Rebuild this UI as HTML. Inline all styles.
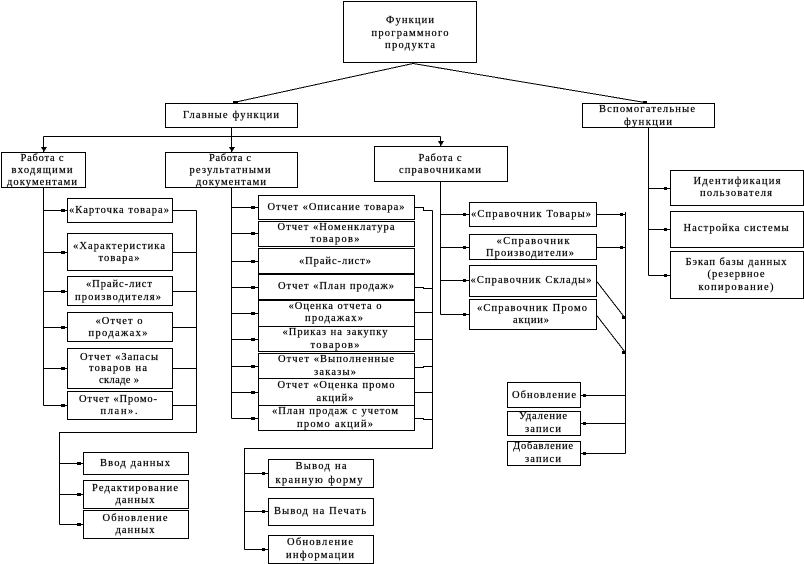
<!DOCTYPE html>
<html lang="ru"><head><meta charset="utf-8"><title>Функции программного продукта</title>
<style>
html,body{margin:0;padding:0;background:#fff;width:804px;height:564px;overflow:hidden}
svg{display:block}
rect.b{fill:#fff;stroke:#000;stroke-width:1;shape-rendering:crispEdges}
path.l{fill:none;stroke:#000;stroke-width:1;shape-rendering:crispEdges}
path.m{fill:#000;stroke:none;shape-rendering:crispEdges}
text{font-family:"Liberation Serif","Noto Serif CJK SC",serif;font-size:10.5px;fill:#000;stroke:#000;stroke-width:.2px;text-anchor:middle}
</style></head><body>
<svg width="804" height="564" viewBox="0 0 804 564" xmlns="http://www.w3.org/2000/svg">
<path class="l" d="M413 63.5L236 102M413 63.5L645 102.5
M43.5 136.5H440.5M231.5 127V152M43.5 136.5V152M440.5 136.5V146
M43.5 187V405.5M43.5 210.5H67M43.5 252.5H67M43.5 291.5H67M43.5 327.5H67M43.5 368.5H67M43.5 405.5H67
M172 210.5H196.5M172 252.5H196.5M172 291.5H196.5M172 327.5H196.5M172 368.5H196.5M172 405.5H196.5M196.5 210.5V432.5H59.5V524.5M59.5 463.5H83M59.5 494.5H83M59.5 524.5H83
M231.5 187V418.5M231.5 207.5H258M231.5 233.5H258M231.5 261.5H258M231.5 287.5H258M231.5 313.5H258M231.5 339.5H258M231.5 366.5H258M231.5 392.5H258M231.5 418.5H258
M414 207.5H423.5V210.5H432.5M414 287.5H423.5V288.5H432.5M414 312.5H432.5M414 339.5H432.5M414 367.5H423.5V366.5H432.5M414 392.5H432.5M414 418.5H423.5V419.5H432.5
M432.5 210.5V448.5H244.5V549.5M244.5 473.5H268M244.5 511.5H268M244.5 549.5H268
M440.5 181V314.5M440.5 214.5H469M440.5 247.5H469M440.5 280.5H469M440.5 314.5H469
M596 214.5H625.5M596 247.5H625.5M625.5 212V453.5M580 395.5H625.5M580 423.5H625.5M580 453.5H625.5
M596 280.5L625 318M596 314.5L625 352
M648.5 127V275.5M648.5 188.5H670M648.5 229.5H670M648.5 275.5H670"/>
<path class="m" d="M41 147h6l-3 5zM229 147h6l-3 5zM438 141h6l-3 5z
M233 101h5v3h-5zM643 101h4v3h-4z
M61 209h4v3h-4zM61 251h4v3h-4zM61 290h4v3h-4zM61 326h4v3h-4zM61 367h4v3h-4zM61 404h4v3h-4z
M77 462h4v3h-4zM77 493h4v3h-4zM77 523h4v3h-4z
M251 206h4v3h-4zM251 232h4v3h-4zM251 260h4v3h-4zM251 286h4v3h-4zM251 312h4v3h-4zM251 338h4v3h-4zM251 365h4v3h-4zM251 391h4v3h-4zM251 417h4v3h-4z
M262 472h3v3h-3zM262 510h3v3h-3zM262 548h3v3h-3z
M463 213h3v3h-3zM463 246h3v3h-3zM463 279h3v3h-3zM463 313h3v3h-3z
M620 213h3v3h-3zM620 246h3v3h-3zM622 316h4v3h-4zM622 351h4v3h-4z
M583 394h3v3h-3zM583 422h3v3h-3zM583 452h3v3h-3z
M664 187h3v3h-3zM664 228h3v3h-3zM664 274h3v3h-3z"/>
<rect class="b" x="343.5" y="1.5" width="133" height="61"/>
<rect class="b" x="165.5" y="103.5" width="132" height="24"/>
<rect class="b" x="582.5" y="103.5" width="132" height="24"/>
<rect class="b" x="1.5" y="152.5" width="84" height="35"/>
<rect class="b" x="165.5" y="152.5" width="132" height="35"/>
<rect class="b" x="374.5" y="146.5" width="133" height="35"/>
<rect class="b" x="67.5" y="198.5" width="105" height="24"/>
<rect class="b" x="67.5" y="233.5" width="105" height="37"/>
<rect class="b" x="67.5" y="276.5" width="105" height="29"/>
<rect class="b" x="67.5" y="312.5" width="105" height="29"/>
<rect class="b" x="67.5" y="348.5" width="105" height="40"/>
<rect class="b" x="67.5" y="391.5" width="105" height="28"/>
<rect class="b" x="83.5" y="452.5" width="105" height="22"/>
<rect class="b" x="83.5" y="480.5" width="105" height="28"/>
<rect class="b" x="83.5" y="510.5" width="105" height="28"/>
<rect class="b" x="258.5" y="195.5" width="156" height="24"/>
<rect class="b" x="258.5" y="221.5" width="156" height="25"/>
<rect class="b" x="258.5" y="248.5" width="156" height="25"/>
<rect class="b" x="258.5" y="274.5" width="156" height="25"/>
<rect class="b" x="258.5" y="300.5" width="156" height="26"/>
<rect class="b" x="258.5" y="326.5" width="156" height="25"/>
<rect class="b" x="258.5" y="353.5" width="156" height="25"/>
<rect class="b" x="258.5" y="378.5" width="156" height="27"/>
<rect class="b" x="258.5" y="405.5" width="156" height="25"/>
<rect class="b" x="268.5" y="459.5" width="105" height="28"/>
<rect class="b" x="268.5" y="498.5" width="105" height="27"/>
<rect class="b" x="268.5" y="535.5" width="105" height="28"/>
<rect class="b" x="469.5" y="202.5" width="127" height="24"/>
<rect class="b" x="469.5" y="234.5" width="127" height="25"/>
<rect class="b" x="469.5" y="265.5" width="127" height="31"/>
<rect class="b" x="469.5" y="299.5" width="127" height="30"/>
<rect class="b" x="507.5" y="382.5" width="73" height="25"/>
<rect class="b" x="507.5" y="411.5" width="73" height="24"/>
<rect class="b" x="507.5" y="441.5" width="73" height="24"/>
<rect class="b" x="670.5" y="170.5" width="133" height="35"/>
<rect class="b" x="670.5" y="211.5" width="133" height="36"/>
<rect class="b" x="670.5" y="251.5" width="133" height="47"/>
<text x="410" y="23" textLength="48">Функции</text>
<text x="410" y="36" textLength="77">программного</text>
<text x="410" y="48" textLength="50">продукта</text>
<text x="231" y="118" textLength="96">Главные функции</text>
<text x="647" y="112" textLength="96">Вспомогательные</text>
<text x="648" y="125" textLength="48">функции</text>
<text x="42" y="161" textLength="43">Работа с</text>
<text x="42" y="173" textLength="61">входящими</text>
<text x="42" y="185" textLength="70">документами</text>
<text x="230" y="161" textLength="42">Работа с</text>
<text x="230" y="173" textLength="81">результатными</text>
<text x="231" y="185" textLength="70">документами</text>
<text x="440" y="161" textLength="43">Работа с</text>
<text x="440" y="173" textLength="82">справочниками</text>
<text x="119" y="213" textLength="100">«Карточка товара»</text>
<text x="119" y="249" textLength="92">«Характеристика</text>
<text x="119" y="261" textLength="41">товара»</text>
<text x="119" y="287" textLength="66">«Прайс-лист</text>
<text x="118" y="300" textLength="86">производителя»</text>
<text x="119" y="324" textLength="47">«Отчет о</text>
<text x="118" y="336" textLength="59">продажах»</text>
<text x="119" y="360" textLength="78">Отчет «Запасы</text>
<text x="118" y="371" textLength="58">товаров на</text>
<text x="119" y="383" textLength="40">складе »</text>
<text x="118" y="402" textLength="78">Отчет «Промо-</text>
<text x="119" y="414" textLength="37">план».</text>
<text x="135" y="466" textLength="70">Ввод данных</text>
<text x="135" y="491" textLength="86">Редактирование</text>
<text x="135" y="503" textLength="39">данных</text>
<text x="135" y="521" textLength="65">Обновление</text>
<text x="135" y="533" textLength="39">данных</text>
<text x="336" y="210" textLength="137">Отчет «Описание товара»</text>
<text x="336" y="230" textLength="117">Отчет «Номенклатура</text>
<text x="335" y="242" textLength="49">товаров»</text>
<text x="335" y="264" textLength="72">«Прайс-лист»</text>
<text x="336" y="289" textLength="116">Отчет «План продаж»</text>
<text x="335" y="309" textLength="93">«Оценка отчета о</text>
<text x="334" y="321" textLength="58">продажах»</text>
<text x="335" y="335" textLength="105">«Приказ на закупку</text>
<text x="335" y="348" textLength="49">товаров»</text>
<text x="336" y="362" textLength="116">Отчет «Выполненные</text>
<text x="335" y="375" textLength="42">заказы»</text>
<text x="336" y="388" textLength="117">Отчет «Оценка промо</text>
<text x="335" y="401" textLength="37">акций»</text>
<text x="335" y="414" textLength="126">«План продаж с учетом</text>
<text x="335" y="427" textLength="76">промо акций»</text>
<text x="321" y="469" textLength="51">Вывод на</text>
<text x="319" y="483" textLength="87">кранную форму</text>
<text x="320" y="514" textLength="92">Вывод на Печать</text>
<text x="320" y="545" textLength="66">Обновление</text>
<text x="320" y="558" textLength="68">информации</text>
<text x="531" y="217" textLength="120">«Справочник Товары»</text>
<text x="533" y="244" textLength="73">«Справочник</text>
<text x="530" y="256" textLength="88">Производители»</text>
<text x="531" y="283" textLength="121">«Справочник Склады»</text>
<text x="532" y="311" textLength="110">«Справочник Промо</text>
<text x="531" y="323" textLength="36">акции»</text>
<text x="544" y="398" textLength="64">Обновление</text>
<text x="543" y="419" textLength="48">Удаление</text>
<text x="543" y="432" textLength="36">записи</text>
<text x="543" y="449" textLength="60">Добавление</text>
<text x="543" y="462" textLength="36">записи</text>
<text x="737" y="184" textLength="87">Идентификация</text>
<text x="736" y="196" textLength="72">пользователя</text>
<text x="736" y="231" textLength="105">Настройка системы</text>
<text x="736" y="265" textLength="101">Бэкап базы данных</text>
<text x="736" y="277" textLength="57">(резервное</text>
<text x="736" y="290" textLength="75">копирование)</text>
</svg>
</body></html>
